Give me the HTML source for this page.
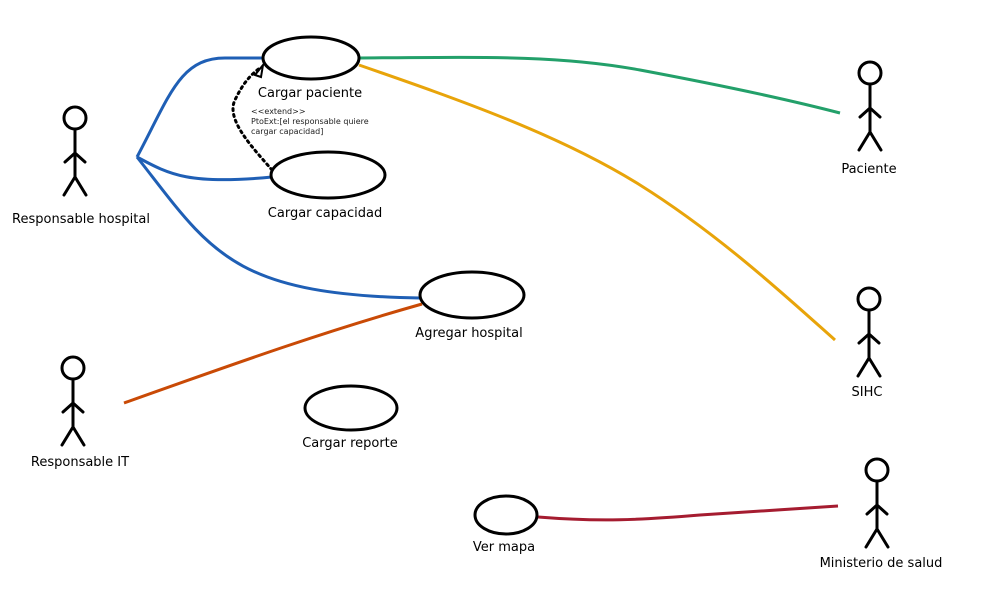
<!DOCTYPE html>
<html><head><meta charset="utf-8"><style>
html,body{margin:0;padding:0;background:#fff;}
svg{display:block;}
text{font-family:"DejaVu Sans","Liberation Sans",sans-serif;font-size:13px;fill:#000;}
.s{font-size:8px;fill:#222;}
</style></head><body>
<svg width="1000" height="600" viewBox="0 0 1000 600">
<defs>
<g id="act" fill="none" stroke="#000" stroke-width="3" stroke-linecap="round">
<circle cx="0" cy="0" r="11" fill="#fff"/>
<path d="M0,11 L0,59 M-10,44 L0,35 L10,44 M-11,77 L0,59 L11,77"/>
</g>
</defs>
<g fill="none" stroke-width="3">
<path d="M137,157 C170,95 180,58 225,58 L263,58" stroke="#1f5fb5"/>
<path d="M137,157 C170,175 190,185 272,177" stroke="#1f5fb5"/>
<path d="M137,157 C210,250 230,295 420,298" stroke="#1f5fb5"/>
<path d="M359,58 C480,57 560,55 640,70 C720,85 790,100 840,113" stroke="#23a06a"/>
<path d="M359,65 C460,100 560,135 640,185 C720,235 790,300 835,340" stroke="#e8a40a"/>
<path d="M124,403 C250,358 330,330 422,304" stroke="#c94a06"/>
<path d="M538,517 C600,522 640,520 700,515 L838,506" stroke="#a51c30"/>
<path d="M272,170 C255,150 225,120 235,100 C242,85 250,75 260,68" stroke="#000" stroke-dasharray="2,4" stroke-linecap="round"/>
</g>
<path d="M263,65 L255,75 L261,77 Z" fill="#fff" stroke="#000" stroke-width="2"/>
<g fill="#fff" stroke="#000" stroke-width="3">
<ellipse cx="311" cy="58" rx="48" ry="21"/>
<ellipse cx="328" cy="175" rx="57" ry="23"/>
<ellipse cx="472" cy="295" rx="52" ry="23"/>
<ellipse cx="351" cy="408" rx="46" ry="22"/>
<ellipse cx="506" cy="515" rx="31" ry="19"/>
</g>
<use href="#act" x="75" y="118"/>
<use href="#act" x="73" y="368"/>
<use href="#act" x="870" y="73"/>
<use href="#act" x="869" y="299"/>
<use href="#act" x="877" y="470"/>
<g text-anchor="middle">
<text x="310" y="97">Cargar paciente</text>
<text x="325" y="217">Cargar capacidad</text>
<text x="469" y="337">Agregar hospital</text>
<text x="350" y="447">Cargar reporte</text>
<text x="504" y="551">Ver mapa</text>
<text x="81" y="223">Responsable hospital</text>
<text x="80" y="466">Responsable IT</text>
<text x="869" y="173">Paciente</text>
<text x="867" y="396">SIHC</text>
<text x="881" y="567">Ministerio de salud</text>
</g>
<text class="s" x="251" y="114">&lt;&lt;extend&gt;&gt;</text>
<text class="s" x="251" y="124">PtoExt:[el responsable quiere</text>
<text class="s" x="251" y="134">cargar capacidad]</text>
</svg>
</body></html>
